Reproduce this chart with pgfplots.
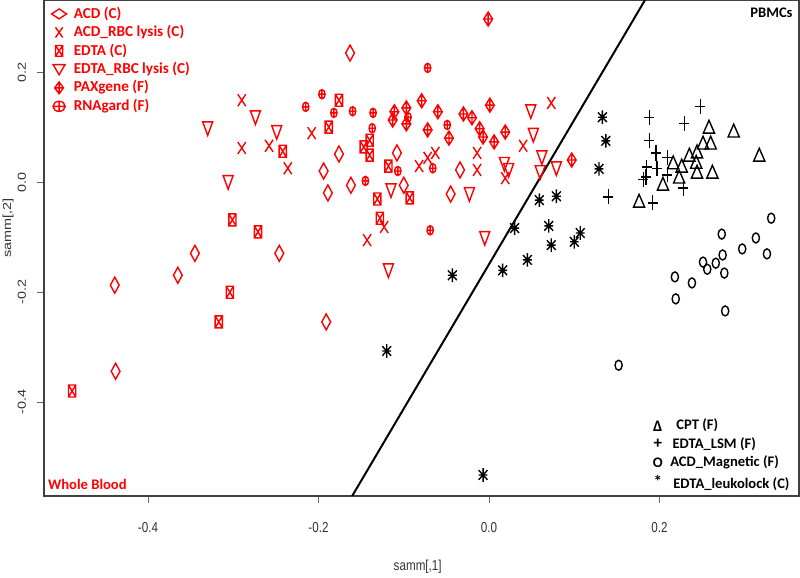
\documentclass[border=0pt]{standalone}
\usepackage{fontspec}
\setmainfont{Liberation Sans}
\newfontfamily\carlito{Carlito}
\usepackage{pgfplots}
\pgfplotsset{compat=1.18}

\pgfdeclareplotmark{mdiamond}{%
 \pgfpathmoveto{\pgfqpoint{0pt}{4pt}}%
 \pgfpathlineto{\pgfqpoint{2.2pt}{0pt}}%
 \pgfpathlineto{\pgfqpoint{0pt}{-4pt}}%
 \pgfpathlineto{\pgfqpoint{-2.2pt}{0pt}}%
 \pgfpathclose\pgfusepathqstroke}
\pgfdeclareplotmark{mdiaplus}{%
 \pgfpathmoveto{\pgfqpoint{0pt}{3.5pt}}%
 \pgfpathlineto{\pgfqpoint{2.2pt}{0pt}}%
 \pgfpathlineto{\pgfqpoint{0pt}{-3.5pt}}%
 \pgfpathlineto{\pgfqpoint{-2.2pt}{0pt}}%
 \pgfpathclose
 \pgfpathmoveto{\pgfqpoint{0pt}{3.5pt}}\pgfpathlineto{\pgfqpoint{0pt}{-3.5pt}}%
 \pgfpathmoveto{\pgfqpoint{-2.2pt}{0pt}}\pgfpathlineto{\pgfqpoint{2.2pt}{0pt}}%
 \pgfusepathqstroke}
\pgfdeclareplotmark{mx}{%
 \pgfpathmoveto{\pgfqpoint{-2pt}{-3pt}}\pgfpathlineto{\pgfqpoint{2pt}{3pt}}%
 \pgfpathmoveto{\pgfqpoint{-2pt}{3pt}}\pgfpathlineto{\pgfqpoint{2pt}{-3pt}}%
 \pgfusepathqstroke}
\pgfdeclareplotmark{mbox}{%
 \pgfpathrectangle{\pgfqpoint{-1.8pt}{-3pt}}{\pgfqpoint{3.6pt}{6pt}}%
 \pgfpathmoveto{\pgfqpoint{-1.8pt}{-3pt}}\pgfpathlineto{\pgfqpoint{1.8pt}{3pt}}%
 \pgfpathmoveto{\pgfqpoint{-1.8pt}{3pt}}\pgfpathlineto{\pgfqpoint{1.8pt}{-3pt}}%
 \pgfusepathqstroke}
\pgfdeclareplotmark{mtridown}{%
 \pgfpathmoveto{\pgfqpoint{-2.5pt}{3.2pt}}%
 \pgfpathlineto{\pgfqpoint{2.5pt}{3.2pt}}%
 \pgfpathlineto{\pgfqpoint{0pt}{-3.6pt}}%
 \pgfpathclose\pgfusepathqstroke}
\pgfdeclareplotmark{moplus}{%
 \pgfpathellipse{\pgfpointorigin}{\pgfqpoint{1.6pt}{0pt}}{\pgfqpoint{0pt}{2.3pt}}%
 \pgfpathmoveto{\pgfqpoint{0pt}{2.3pt}}\pgfpathlineto{\pgfqpoint{0pt}{-2.3pt}}%
 \pgfpathmoveto{\pgfqpoint{-1.6pt}{0pt}}\pgfpathlineto{\pgfqpoint{1.6pt}{0pt}}%
 \pgfusepathqstroke}
\pgfdeclareplotmark{mtriup}{%
 \pgfpathmoveto{\pgfqpoint{0pt}{3.4pt}}%
 \pgfpathlineto{\pgfqpoint{2.8pt}{-3pt}}%
 \pgfpathlineto{\pgfqpoint{-2.8pt}{-3pt}}%
 \pgfpathclose\pgfusepathqstroke}
\pgfdeclareplotmark{mplus}{%
 \pgfpathmoveto{\pgfqpoint{-2.5pt}{0pt}}\pgfpathlineto{\pgfqpoint{2.5pt}{0pt}}%
 \pgfpathmoveto{\pgfqpoint{0pt}{-3.8pt}}\pgfpathlineto{\pgfqpoint{0pt}{3.8pt}}%
 \pgfusepathqstroke}
\pgfdeclareplotmark{mcircle}{%
 \pgfpathellipse{\pgfpointorigin}{\pgfqpoint{1.8pt}{0pt}}{\pgfqpoint{0pt}{2.5pt}}%
 \pgfusepathqstroke}
\pgfdeclareplotmark{mast}{%
 \pgfpathmoveto{\pgfqpoint{0pt}{-3.4pt}}\pgfpathlineto{\pgfqpoint{0pt}{3.4pt}}%
 \pgfpathmoveto{\pgfqpoint{-2.2pt}{-2.4pt}}\pgfpathlineto{\pgfqpoint{2.2pt}{2.4pt}}%
 \pgfpathmoveto{\pgfqpoint{-2.2pt}{2.4pt}}\pgfpathlineto{\pgfqpoint{2.2pt}{-2.4pt}}%
 \pgfpathmoveto{\pgfqpoint{-2.2pt}{0pt}}\pgfpathlineto{\pgfqpoint{2.2pt}{0pt}}%
 \pgfusepathqstroke}

\pgfplotsset{legimg/.style 2 args={legend image code/.code={\path (-3.5pt,-1pt) (5pt,1pt);\draw[##1, mark options={xscale=#1,yscale=#2}] plot coordinates {(0pt,0pt)};}}}

\begin{document}
\begin{tikzpicture}
\begin{axis}[
  scale only axis, width=377.5pt, height=248pt,
  xmin=-0.5220, xmax=0.3636, ymin=-0.5713, ymax=0.3327,
  xtick={-0.4,-0.2,0,0.2}, ytick={-0.4,-0.2,0,0.2},
  xticklabels={-0.4,-0.2,0.0,0.2}, yticklabels={-0.4,-0.2,0.0,0.2},
  tick align=outside, xtick pos=bottom, ytick pos=left,
  major tick length=3.3pt,
  axis line style={black!75, line width=0.6pt},
  tick style={black!60, line width=0.5pt},
  xticklabel shift=0pt, yticklabel shift=0pt,
  xticklabel style={font=\fontsize{7.2}{8}\selectfont, anchor=base, inner sep=0pt, yshift=-15pt, xscale=0.81, text=black!80},
  yticklabel style={font=\fontsize{7.2}{8}\selectfont, xshift=-5.5pt, rotate=90, yscale=0.81, anchor=south, inner sep=0pt, text=black!80},
  xlabel={samm[,1]}, ylabel={samm[,2]},
  every axis x label/.style={at={(axis description cs:0.495,0)}, yshift=-35.5pt, xscale=0.81, anchor=center, font=\fontsize{7.2}{8}\selectfont, text=black!80},
  every axis y label/.style={at={(axis description cs:0,0.54)}, xshift=-18pt, rotate=90, yscale=0.81, anchor=center, font=\fontsize{7.2}{8}\selectfont, text=black!80},
  legend style={at={(rel axis cs:0,1)}, anchor=north west, draw=none, fill=none,
    font=\carlito\bfseries\fontsize{7.6}{9}\selectfont, text=red,
    row sep=-1.9pt, inner xsep=3.5pt, inner ysep=1.2pt},
  legend cell align=left,
]
% ACD (C)
\addplot[only marks, red, line width=0.7pt, mark=mdiamond, legimg={1.7}{0.62}]
coordinates {(-0.163,0.236) (-0.345,-0.129) (-0.246,-0.129) (-0.365,-0.169) (-0.439,-0.187)
 (-0.438,-0.344) (-0.191,-0.254) (-0.176,0.052) (-0.108,0.054) (-0.034,0.023) (-0.194,0.021)
 (-0.189,-0.019) (-0.162,-0.005) (-0.100,-0.005) (-0.045,-0.021)};
% ACD_RBC lysis (C)
\addplot[only marks, red, line width=0.7pt, mark=mx, legimg={0.9}{0.85}]
coordinates {(-0.290,0.150) (-0.290,0.063) (-0.258,0.067) (-0.236,0.026) (-0.208,0.090)
 (-0.063,0.054) (-0.072,0.045) (-0.082,0.030) (-0.014,0.054) (-0.014,0.023) (0.019,0.008)
 (0.040,0.067) (0.073,0.145) (-0.123,-0.081) (-0.143,-0.105)};
% EDTA (C)
\addplot[only marks, red, line width=0.7pt, mark=mbox, legimg={1}{0.9}]
coordinates {(-0.489,-0.380) (-0.304,-0.200) (-0.317,-0.254) (-0.301,-0.068) (-0.271,-0.090)
 (-0.242,0.057) (-0.176,0.150) (-0.188,0.101) (-0.147,0.065) (-0.140,0.077) (-0.140,0.050)
 (-0.118,0.030) (-0.131,-0.030) (-0.093,-0.028) (-0.128,-0.065)};
% EDTA_RBC lysis (C)
\addplot[only marks, red, line width=0.7pt, mark=mtridown, legimg={1.2}{0.75}]
coordinates {(-0.274,0.119) (-0.330,0.099) (-0.249,0.092) (-0.306,0.001) (-0.115,-0.014)
 (-0.023,-0.021) (-0.118,-0.160) (-0.005,-0.101) (0.049,0.130) (0.052,0.087) (0.062,0.046)
 (0.018,0.034) (0.023,0.023) (0.060,0.019) (0.079,0.026)};
% PAXgene (F)
\addplot[only marks, red, line width=0.7pt, mark=mdiaplus, legimg={1}{0.85}]
coordinates {(-0.001,0.298) (-0.111,0.129) (-0.113,0.114) (-0.097,0.136) (-0.097,0.107)
 (-0.079,0.149) (-0.060,0.129) (-0.030,0.125) (-0.020,0.118) (0.001,0.141) (-0.072,0.096)
 (-0.047,0.081) (-0.011,0.098) (-0.007,0.083) (0.006,0.074) (0.019,0.092) (0.097,0.041)};
% RNAgard (F)
\addplot[only marks, red, line width=0.7pt, mark=moplus, legimg={1.9}{1.1}]
coordinates {(-0.072,0.209) (-0.196,0.161) (-0.215,0.138) (-0.182,0.127) (-0.160,0.130)
 (-0.136,0.127) (-0.095,0.119) (-0.137,0.099) (-0.049,0.105) (-0.066,0.026) (-0.145,0.003)
 (-0.107,0.021) (-0.069,-0.087)};
% CPT (F)
\addplot[only marks, black, line width=0.7pt, mark=mtriup, forget plot]
coordinates {(0.258,0.101) (0.287,0.094) (0.251,0.072) (0.260,0.072) (0.244,0.056)
 (0.235,0.050) (0.216,0.036) (0.226,0.030) (0.243,0.037) (0.244,0.019) (0.223,0.010)
 (0.262,0.019) (0.204,-0.003) (0.317,0.050) (0.176,-0.034)};
% EDTA_LSM (F)
\addplot[only marks, black, line width=0.7pt, mark=mplus, forget plot]
coordinates {(0.248,0.139) (0.188,0.118) (0.229,0.108) (0.188,0.077) (0.196,0.054)
 (0.209,0.046) (0.197,0.026) (0.185,0.028) (0.184,0.010) (0.181,0.005) (0.209,0.014)
 (0.228,-0.010) (0.140,-0.026) (0.192,-0.037)};
% ACD_Magnetic (F)
\addplot[only marks, black, line width=0.7pt, mark=mcircle, forget plot]
coordinates {(0.331,-0.065) (0.273,-0.094) (0.313,-0.101) (0.297,-0.121) (0.326,-0.130)
 (0.274,-0.132) (0.251,-0.145) (0.266,-0.147) (0.256,-0.158) (0.276,-0.165) (0.218,-0.172)
 (0.238,-0.183) (0.219,-0.212) (0.277,-0.234) (0.152,-0.333)};
% EDTA_leukolock (C)
\addplot[only marks, black, line width=0.7pt, mark=mast, forget plot]
coordinates {(0.133,0.119) (0.137,0.076) (0.129,0.025) (0.059,-0.032) (0.079,-0.025)
 (0.070,-0.079) (0.073,-0.114) (0.100,-0.108) (0.107,-0.092) (0.045,-0.141) (0.030,-0.083)
 (0.016,-0.160) (-0.043,-0.169) (-0.120,-0.307) (-0.007,-0.533)};
% separating line
\addplot[black, line width=1pt, forget plot] coordinates {(-0.1605,-0.5713) (0.1830,0.3327)};

\legend{ACD (C), ACD\_RBC lysis (C), EDTA (C), EDTA\_RBC lysis (C), PAXgene (F), RNAgard (F)}

\begin{scope}[every node/.style={font=\carlito\bfseries\fontsize{7.3}{9}\selectfont, inner sep=0pt}]
\node[anchor=center, font=\carlito\bfseries\fontsize{8}{9}\selectfont] at (rel axis cs:0.813,0.140) {Δ};
\node[anchor=west] at (rel axis cs:0.837,0.143) {CPT (F)};
\node[anchor=center, font=\carlito\bfseries\fontsize{8.5}{9}\selectfont] at (rel axis cs:0.813,0.105) {+};
\node[anchor=west] at (rel axis cs:0.832,0.105) {EDTA\_LSM (F)};
\node[anchor=center] at (rel axis cs:0.813,0.067) {O};
\node[anchor=west] at (rel axis cs:0.829,0.067) {ACD\_Magnetic (F)};
\node[anchor=center, font=\carlito\bfseries\fontsize{8.5}{9}\selectfont] at (rel axis cs:0.813,0.030) {*};
\node[anchor=west] at (rel axis cs:0.833,0.024) {EDTA\_leukolock (C)};
\node[anchor=west, text=red] at (rel axis cs:0.005,0.024) {Whole Blood};
\node[anchor=east] at (rel axis cs:0.992,0.974) {PBMCs};
\end{scope}
\coordinate (SW) at (rel axis cs:0,0);
\coordinate (NE) at (rel axis cs:1,1);
\end{axis}
\pgfresetboundingbox
\path[use as bounding box] ([xshift=-22pt,yshift=-41pt]SW) rectangle ([xshift=0.5pt]NE);
\end{tikzpicture}
\end{document}
